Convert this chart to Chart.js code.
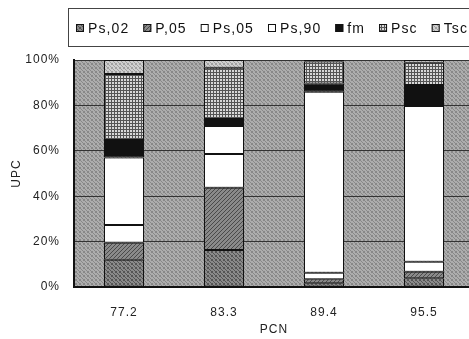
<!DOCTYPE html>
<html>
<head>
<meta charset="utf-8">
<script src="https://cdn.jsdelivr.net/npm/chart.js@4/dist/chart.umd.min.js"></script>
<style>
  html, body { margin: 0; padding: 0; background: #fff; overflow: hidden; }
  canvas { display: block; }
</style>
</head>
<body>
<canvas id="c" width="474" height="339"></canvas>
<script>
// categories (PCN) and stacked shares (%)
const categories = ['77.2', '83.3', '89.4', '95.5'];
const ps02 = [12.0, 16.3, 1.6, 3.8];
const p05  = [7.5, 27.4, 1.8, 2.9];
const ps05 = [7.8, 14.9, 2.9, 4.4];
const ps90 = [29.8, 12.3, 79.7, 68.6];
const fm   = [7.7, 3.1, 3.7, 9.3];
const psc  = [29.0, 22.6, 9.6, 9.8];
const tsc  = [6.2, 3.4, 0.7, 1.2];
const yTicks = [0, 20, 40, 60, 80, 100];

const canvas = document.getElementById('c');
const ctx = canvas.getContext('2d');
const FONT = '"Liberation Sans", Arial, sans-serif';

// small tiled fills to mimic the printed halftones
function makePattern(size, draw) {
  const t = document.createElement('canvas');
  t.width = t.height = size;
  draw(t.getContext('2d'), size);
  return ctx.createPattern(t, 'repeat');
}
function stipple(a, b) {
  return makePattern(4, (g, n) => {
    for (let y = 0; y < n; y++) for (let x = 0; x < n; x++) {
      g.fillStyle = ((x + 2 * y) % 3 === 0) ? a : b;
      g.fillRect(x, y, 1, 1);
    }
  });
}
const bgFill = stipple('#888', '#adadad');
const fills = {
  ps02: stipple('#555', '#8a8a8a'),
  p05: makePattern(4, (g, n) => {
    g.fillStyle = '#8a8a8a'; g.fillRect(0, 0, n, n);
    g.fillStyle = '#4a4a4a';
    for (let i = 0; i < n; i++) g.fillRect(i, n - 1 - i, 1, 1);
  }),
  white: '#ffffff',
  fm: '#111111',
  psc: makePattern(3, (g, n) => {
    g.fillStyle = '#d8d8d8'; g.fillRect(0, 0, n, n);
    g.fillStyle = '#555';
    g.fillRect(0, 0, n, 1); g.fillRect(0, 0, 1, n);
  }),
  tsc: stipple('#a0a0a0', '#cfcfcf')
};

const series = [
  { label: 'Ps,02', data: ps02, fill: fills.ps02 },
  { label: 'P,05', data: p05, fill: fills.p05 },
  { label: 'Ps,05', data: ps05, fill: fills.white },
  { label: 'Ps,90', data: ps90, fill: fills.white },
  { label: 'fm', data: fm, fill: fills.fm },
  { label: 'Psc', data: psc, fill: fills.psc },
  { label: 'Tsc', data: tsc, fill: fills.tsc }
];

// textured plot background
const plotBg = {
  id: 'plotBg',
  beforeDraw(chart) {
    const a = chart.chartArea, c = chart.ctx;
    c.save();
    c.fillStyle = bgFill;
    c.fillRect(a.left, a.top, a.right - a.left, a.bottom - a.top);
    c.restore();
    c.letterSpacing = '1px';
  }
};

// boxed legend across the top
const boxLegend = {
  id: 'boxLegend',
  afterDraw(chart) {
    const c = chart.ctx;
    c.save();
    c.strokeStyle = '#444';
    c.lineWidth = 1;
    c.strokeRect(68.5, 8.5, 430, 38);
    c.font = '14px ' + FONT;
    c.letterSpacing = '1.1px';
    c.textBaseline = 'middle';
    let x = 76;
    const cy = 28;
    chart.data.datasets.forEach(ds => {
      c.fillStyle = ds.backgroundColor;
      c.fillRect(x, cy - 4, 8, 8);
      c.strokeStyle = '#111';
      c.strokeRect(x + 0.5, cy - 3.5, 7, 7);
      x += 12;
      c.fillStyle = '#111';
      c.fillText(ds.label, x, cy + 1);
      x += c.measureText(ds.label).width + 14;
    });
    c.restore();
  }
};

new Chart(ctx, {
  type: 'bar',
  data: {
    labels: categories,
    datasets: series.map(s => ({
      label: s.label,
      data: s.data,
      backgroundColor: s.fill,
      borderColor: '#111',
      borderWidth: 1,
      borderSkipped: false,
      barPercentage: 0.4,
      categoryPercentage: 1.0
    }))
  },
  options: {
    responsive: false,
    animation: false,
    layout: { padding: { top: 60, left: 0, right: 0, bottom: 0 } },
    plugins: {
      legend: { display: false },
      tooltip: { enabled: false }
    },
    scales: {
      x: {
        stacked: true,
        grid: { display: false },
        border: { display: true, color: '#111', width: 2 },
        ticks: { color: '#222', padding: 10, font: { family: FONT, size: 12 } },
        title: { display: true, text: 'PCN', color: '#222', padding: { top: 0, bottom: 2 }, font: { family: FONT, size: 12 } },
        afterFit: s => { s.height = 52; }
      },
      y: {
        stacked: true,
        min: 0,
        max: 100,
        afterBuildTicks: s => { s.ticks = yTicks.map(v => ({ value: v })); },
        grid: { color: '#333', lineWidth: 1, drawTicks: false },
        border: { display: true, color: '#111', width: 2 },
        ticks: { color: '#222', padding: 14, font: { family: FONT, size: 12 }, callback: v => v + '%' },
        title: { display: true, text: 'UPC', color: '#222', padding: { top: 9, bottom: 0 }, font: { family: FONT, size: 12 } },
        afterFit: s => { s.width = 74; }
      }
    }
  },
  plugins: [plotBg, boxLegend]
});
</script>
</body>
</html>
